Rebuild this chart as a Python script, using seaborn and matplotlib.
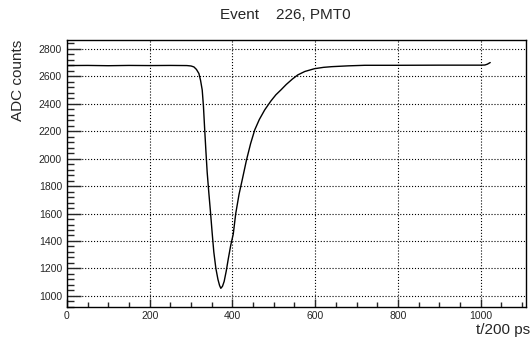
import numpy as np
import pandas as pd
import matplotlib
matplotlib.use('Agg')
import matplotlib.pyplot as plt
from matplotlib.ticker import MultipleLocator
import seaborn as sns

# waveform samples (sample index, ADC value)
t_samples = [0, 50, 100, 150, 200, 250, 290, 300, 307, 313, 319, 323, 327, 330,
             333, 336, 339, 343, 347, 351, 355, 360, 365, 369, 372, 376, 380,
             385, 390, 396, 402, 408, 416, 424, 434, 444, 454, 465, 478, 493,
             505, 517, 530, 545, 558, 575, 598, 620, 640, 680, 720, 800, 900,
             1000, 1010, 1016, 1023]
adc_counts = [2678, 2679, 2677, 2679, 2678, 2679, 2678, 2675, 2668, 2650, 2620,
              2570, 2500, 2380, 2210, 2050, 1900, 1750, 1610, 1460, 1320, 1200,
              1120, 1075, 1055, 1070, 1105, 1180, 1270, 1370, 1450, 1600, 1740,
              1850, 1990, 2110, 2210, 2285, 2355, 2420, 2465, 2500, 2540, 2580,
              2610, 2635, 2655, 2665, 2670, 2676, 2680, 2680, 2681, 2681, 2682,
              2688, 2700]

title = 'Event    226, PMT0'

df = pd.DataFrame({'t': t_samples, 'adc': adc_counts})

sns.set_style('ticks')
plt.rcParams['font.family'] = ['Liberation Sans', 'DejaVu Sans']

fig = plt.figure(figsize=(5.31, 3.44), dpi=100)
ax = fig.add_axes([0.126, 0.108, 0.865, 0.776])

sns.lineplot(data=df, x='t', y='adc', color='black', linewidth=1.0,
             estimator=None, sort=True, ax=ax)

ax.set_xlim(0, 1110)
ax.set_ylim(920, 2865)
ax.xaxis.set_major_locator(MultipleLocator(200))
ax.xaxis.set_minor_locator(MultipleLocator(50))
ax.yaxis.set_major_locator(MultipleLocator(200))
ax.yaxis.set_minor_locator(MultipleLocator(40))
ax.grid(True, which='major', linestyle=':', color='black', linewidth=0.8)

ax.tick_params(axis='x', which='major', direction='in', length=6, width=1,
               labelsize=7.5, pad=3, top=False)
ax.tick_params(axis='x', which='minor', direction='in', length=3.5, width=1)
ax.tick_params(axis='y', which='major', direction='in', length=10, width=1,
               labelsize=7.5, pad=3.5, right=False)
ax.tick_params(axis='y', which='minor', direction='in', length=5, width=1)
for s in ax.spines.values():
    s.set_visible(True)
    s.set_color('black')
    s.set_linewidth(1)

ax.set_xlabel('')
ax.set_ylabel('')
fig.text(0.537, 0.956, title, ha='center', va='center', fontsize=11)
fig.text(0.034, 0.884, 'ADC counts', rotation=90, ha='center', va='top', fontsize=11)
fig.text(0.998, 0.04, 't/200 ps', ha='right', va='center', fontsize=11)

fig.savefig('out.png', dpi=100)
